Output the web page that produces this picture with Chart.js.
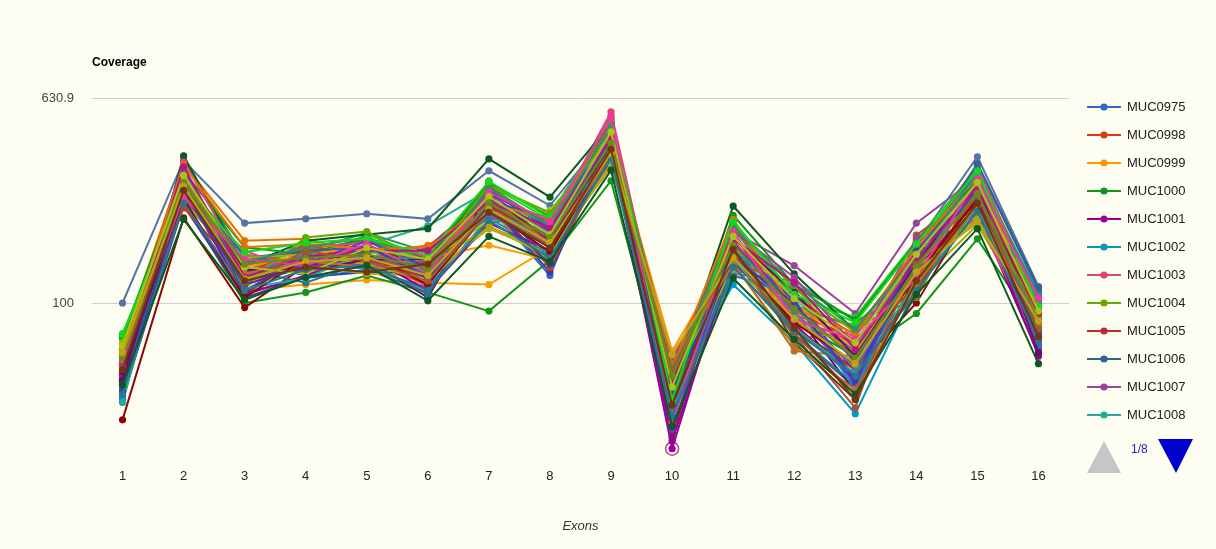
<!DOCTYPE html>
<html>
<head>
<meta charset="utf-8">
<script src="https://cdn.jsdelivr.net/npm/chart.js@4.4.1/dist/chart.umd.min.js"></script>
<style>
  html, body { margin: 0; padding: 0; background: #fdfdf2; }
  canvas { display: block; }
</style>
</head>
<body>
<canvas id="chart" width="1216" height="549"></canvas>
<script>
// Exon categories along the x axis
const exons = ['1', '2', '3', '4', '5', '6', '7', '8', '9', '10', '11', '12', '13', '14', '15', '16'];
// Labelled gridlines on the log coverage axis
const yTicks = [100, 630.9];
const pageLabel = '1/8';

// Sample names, in series order
const sampleNames = [
  'MUC0975', 'MUC0998', 'MUC0999', 'MUC1000', 'MUC1001', 'MUC1002', 'MUC1003', 'MUC1004',
  'MUC1005', 'MUC1006', 'MUC1007', 'MUC1008', 'MUC1009', 'MUC1010', 'MUC1011', 'MUC1012',
  'MUC1013', 'MUC1014', 'MUC1015', 'MUC1016', 'MUC1017', 'MUC1018', 'MUC1019', 'MUC1020',
  'MUC1021', 'MUC1022', 'MUC1023', 'MUC1024', 'MUC1025', 'MUC1026', 'MUC1027', 'MUC1028',
  'MUC1029', 'MUC1030', 'MUC1031', 'MUC1032', 'MUC1033', 'MUC1034', 'MUC1035', 'MUC1036',
  'MUC1037', 'MUC1038', 'MUC1039', 'MUC1040', 'MUC1041', 'MUC1042', 'MUC1043', 'MUC1044',
  'MUC1045', 'MUC1046', 'MUC1047', 'MUC1048', 'MUC1049', 'MUC1050', 'MUC1051', 'MUC1052',
  'MUC1053', 'MUC1054', 'MUC1055', 'MUC1056', 'MUC1057', 'MUC1058'
];

// Mean coverage per exon, one array per sample (exons 1..16)
const muc0975 = [52, 265, 145, 128, 170, 118, 240, 128, 470, 34, 190, 82, 70, 122, 305, 96];
const muc0998 = [66, 330, 118, 165, 142, 152, 215, 205, 400, 55, 150, 110, 50, 165, 245, 72];
const muc0999 = [60, 290, 112, 118, 123, 120, 118, 165, 390, 46, 150, 78, 55, 135, 240, 82];
const muc1000 = [62, 250, 100, 110, 128, 110, 93, 147, 300, 38, 150, 85, 62, 91, 178, 78];
const muc1001 = [50, 270, 118, 140, 150, 125, 230, 175, 400, 27, 160, 90, 52, 145, 265, 75];
const muc1002 = [46, 280, 110, 125, 135, 115, 215, 155, 380, 44, 118, 70, 37, 115, 230, 70];
const muc1003 = [64, 310, 140, 150, 178, 140, 285, 200, 557, 49, 172, 105, 75, 165, 300, 100];
const muc1004 = [74, 300, 155, 140, 182, 135, 300, 175, 520, 42, 205, 95, 82, 140, 330, 104];
const muc1005 = [45, 345, 108, 155, 150, 162, 260, 150, 360, 60, 135, 118, 58, 108, 280, 88];
const muc1006 = [57, 290, 130, 172, 135, 110, 250, 215, 450, 38, 175, 75, 47, 150, 345, 112];
const muc1007 = [56, 300, 132, 152, 160, 142, 255, 190, 430, 42, 190, 140, 91, 205, 310, 92];
const muc1008 = [41, 285, 135, 155, 168, 200, 275, 205, 460, 48, 185, 100, 65, 155, 300, 110];
const muc1009 = [69, 255, 138, 132, 160, 140, 198, 160, 340, 57, 160, 88, 66, 118, 202, 80];
const muc1010 = [48, 315, 112, 150, 178, 125, 285, 190, 495, 31, 140, 100, 54, 170, 260, 66];
const muc1011 = [70, 350, 175, 178, 155, 168, 230, 140, 430, 50, 215, 72, 78, 130, 290, 98];
const muc1012 = [35, 215, 96, 140, 160, 140, 232, 170, 400, 36, 150, 80, 55, 100, 250, 80];
const muc1013 = [53, 275, 125, 136, 148, 105, 270, 200, 380, 46, 185, 92, 45, 155, 225, 63];
const muc1014 = [61, 360, 150, 160, 188, 158, 205, 222, 505, 36, 130, 122, 85, 112, 320, 108];
const muc1015 = [100, 360, 205, 213, 223, 213, 328, 240, 470, 45, 200, 105, 62, 170, 372, 116];
const muc1016 = [43, 240, 105, 126, 132, 130, 245, 132, 415, 53, 165, 80, 52, 160, 270, 76];
const muc1017 = [63, 310, 132, 168, 150, 120, 225, 182, 460, 44, 145, 65, 62, 125, 240, 92];
const muc1018 = [76, 285, 148, 145, 185, 150, 290, 210, 520, 40, 210, 105, 88, 175, 335, 84];
const muc1019 = [50, 335, 120, 155, 138, 165, 265, 165, 355, 58, 170, 112, 60, 138, 300, 102];
const muc1020 = [59, 270, 160, 130, 165, 115, 280, 195, 540, 48, 200, 90, 74, 150, 215, 70];
const muc1021 = [58, 295, 128, 145, 152, 132, 238, 172, 405, 41, 150, 75, 39, 184, 275, 84];
const muc1022 = [72, 320, 114, 175, 158, 145, 210, 230, 440, 35, 155, 115, 68, 120, 310, 95];
const muc1023 = [47, 250, 135, 120, 145, 108, 255, 145, 390, 52, 140, 76, 48, 168, 255, 110];
const muc1024 = [64, 305, 142, 162, 175, 155, 235, 170, 480, 41, 195, 98, 80, 105, 285, 74];
const muc1025 = [67, 265, 124, 140, 130, 128, 195, 155, 350, 62, 150, 85, 57, 140, 205, 86];
const muc1026 = [50, 375, 140, 175, 185, 195, 365, 259, 500, 48, 239, 130, 78, 160, 320, 100];
const muc1027 = [55, 340, 110, 150, 168, 138, 270, 205, 410, 30, 175, 70, 42, 130, 240, 90];
const muc1028 = [44, 290, 152, 135, 160, 160, 220, 185, 465, 46, 128, 108, 64, 158, 330, 68];
const muc1029 = [60, 235, 128, 170, 145, 118, 250, 138, 390, 57, 185, 93, 72, 115, 265, 100];
const muc1030 = [67, 310, 138, 155, 165, 150, 168, 147, 450, 65, 165, 100, 66, 150, 260, 94];
const muc1031 = [73, 325, 165, 155, 180, 148, 295, 218, 510, 44, 220, 118, 86, 172, 300, 105];
const muc1032 = [49, 280, 108, 128, 152, 112, 205, 160, 430, 29, 145, 83, 50, 135, 250, 62];
const muc1033 = [42, 300, 125, 145, 136, 135, 265, 150, 375, 39, 160, 104, 46, 145, 275, 80];
const muc1034 = [62, 355, 140, 165, 172, 152, 230, 200, 500, 55, 178, 88, 70, 162, 345, 96];
const muc1035 = [68, 270, 118, 180, 190, 142, 288, 225, 455, 50, 205, 114, 77, 128, 225, 106];
const muc1036 = [52, 320, 132, 138, 148, 125, 240, 178, 400, 35, 158, 78, 55, 110, 290, 84];
const muc1037 = [46, 295, 145, 160, 165, 128, 275, 195, 425, 43, 170, 98, 60, 150, 350, 115];
const muc1038 = [58, 260, 130, 148, 140, 145, 222, 168, 470, 59, 190, 126, 68, 178, 280, 92];
const muc1039 = [41, 310, 114, 125, 158, 158, 250, 205, 360, 38, 148, 80, 53, 120, 235, 76];
const muc1040 = [70, 245, 150, 155, 142, 122, 200, 150, 410, 51, 135, 90, 64, 138, 212, 98];
const muc1041 = [51, 330, 122, 142, 175, 138, 268, 185, 445, 32, 168, 102, 48, 155, 275, 72];
const muc1042 = [65, 345, 165, 170, 162, 165, 245, 212, 485, 56, 212, 95, 76, 165, 315, 88];
const muc1043 = [54, 255, 105, 150, 155, 118, 230, 158, 395, 40, 152, 84, 58, 128, 255, 94];
const muc1044 = [50, 300, 135, 132, 148, 148, 258, 178, 415, 47, 180, 110, 62, 142, 292, 64];
const muc1045 = [63, 280, 145, 165, 180, 132, 282, 200, 490, 53, 198, 118, 79, 152, 320, 100];
const muc1046 = [55, 325, 128, 155, 150, 150, 215, 188, 460, 37, 160, 92, 56, 135, 300, 107];
const muc1047 = [45, 270, 118, 138, 168, 125, 238, 142, 405, 45, 150, 100, 50, 160, 260, 78];
const muc1048 = [62, 310, 130, 146, 138, 140, 262, 168, 375, 58, 142, 68, 46, 118, 240, 82];
const muc1049 = [75, 290, 158, 172, 178, 155, 298, 215, 525, 42, 208, 108, 84, 170, 328, 97];
const muc1050 = [57, 340, 126, 152, 160, 160, 248, 196, 440, 50, 178, 120, 66, 148, 285, 91];
const muc1051 = [60, 260, 148, 140, 170, 130, 270, 208, 530, 34, 190, 86, 72, 125, 305, 104];
const muc1052 = [56, 300, 120, 160, 146, 122, 228, 165, 395, 55, 155, 76, 44, 142, 262, 79];
const muc1053 = [68, 315, 138, 130, 164, 148, 260, 185, 465, 47, 182, 104, 70, 155, 295, 93];
const muc1054 = [44, 245, 112, 135, 140, 112, 210, 150, 370, 36, 138, 78, 52, 112, 228, 71];
const muc1055 = [61, 295, 142, 150, 155, 136, 246, 180, 420, 52, 168, 95, 61, 138, 268, 86];
const muc1056 = [64, 285, 124, 145, 150, 128, 232, 172, 385, 63, 150, 87, 58, 132, 208, 85];
const muc1057 = [48, 212, 103, 126, 140, 102, 182, 145, 330, 33, 125, 72, 44, 108, 195, 58];
const muc1058 = [55, 275, 122, 138, 132, 142, 226, 164, 398, 40, 162, 80, 42, 122, 245, 74];

const coverage = [
  muc0975, muc0998, muc0999, muc1000, muc1001, muc1002, muc1003, muc1004,
  muc1005, muc1006, muc1007, muc1008, muc1009, muc1010, muc1011, muc1012,
  muc1013, muc1014, muc1015, muc1016, muc1017, muc1018, muc1019, muc1020,
  muc1021, muc1022, muc1023, muc1024, muc1025, muc1026, muc1027, muc1028,
  muc1029, muc1030, muc1031, muc1032, muc1033, muc1034, muc1035, muc1036,
  muc1037, muc1038, muc1039, muc1040, muc1041, muc1042, muc1043, muc1044,
  muc1045, muc1046, muc1047, muc1048, muc1049, muc1050, muc1051, muc1052,
  muc1053, muc1054, muc1055, muc1056, muc1057, muc1058
];

// Series colour cycle
const palette = [
  '#3366cc', '#dc3912', '#ff9900', '#109618', '#990099', '#0099c6', '#dd4477', '#66aa00',
  '#b82e2e', '#316395', '#994499', '#22aa99', '#aaaa11', '#6633cc', '#e67300', '#8b0707',
  '#651067', '#329262', '#5574a6', '#3b3eac', '#b77322', '#16d620', '#b91383', '#f4359e',
  '#9c5935', '#a9c413', '#2a778d', '#668d1c', '#bea413', '#0c5922', '#743411'
];

const FONT = 'Arial, "Liberation Sans", sans-serif';
const BG = '#fdfdf2';
const LEGEND_ROWS = 12;
const highlighted = { series: 4, exon: 9 };

const datasets = coverage.map((values, i) => {
  const c = palette[i % palette.length];
  return {
    label: sampleNames[i],
    data: values,
    borderColor: c,
    backgroundColor: c,
    pointBackgroundColor: c,
    pointBorderWidth: 0,
    pointRadius: 3.6,
    borderWidth: 2,
    tension: 0,
    // later samples are painted over earlier ones
    order: coverage.length - i
  };
});

const backdrop = {
  id: 'backdrop',
  beforeDraw(chart) {
    const ctx = chart.ctx;
    ctx.save();
    ctx.fillStyle = BG;
    ctx.fillRect(0, 0, chart.width, chart.height);
    ctx.restore();
  }
};

const decorations = {
  id: 'decorations',
  afterDatasetsDraw(chart) {
    // selection ring on one point
    const meta = chart.getDatasetMeta(highlighted.series);
    const pt = meta.data[highlighted.exon];
    if (pt) {
      const ctx = chart.ctx;
      ctx.save();
      ctx.strokeStyle = 'rgba(153,0,153,0.75)';
      ctx.lineWidth = 1.5;
      ctx.beginPath();
      ctx.arc(pt.x, pt.y, 6.5, 0, Math.PI * 2);
      ctx.stroke();
      ctx.restore();
    }
  },
  afterDraw(chart) {
    const ctx = chart.ctx;
    ctx.save();
    // vertical axis caption
    ctx.fillStyle = '#000';
    ctx.font = 'bold 12px ' + FONT;
    ctx.textBaseline = 'middle';
    ctx.textAlign = 'left';
    ctx.fillText('Coverage', 92, 63);

    // legend, first page
    const lx0 = 1087, lx1 = 1121, tx = 1127, y0 = 107, dy = 28;
    ctx.font = '13px ' + FONT;
    for (let i = 0; i < LEGEND_ROWS && i < chart.data.datasets.length; i++) {
      const ds = chart.data.datasets[i];
      const y = y0 + i * dy;
      ctx.strokeStyle = ds.borderColor;
      ctx.lineWidth = 2;
      ctx.beginPath();
      ctx.moveTo(lx0, y);
      ctx.lineTo(lx1, y);
      ctx.stroke();
      ctx.fillStyle = ds.borderColor;
      ctx.beginPath();
      ctx.arc((lx0 + lx1) / 2, y, 3.6, 0, Math.PI * 2);
      ctx.fill();
      ctx.fillStyle = '#222';
      ctx.fillText(ds.label, tx, y + 0.5);
    }

    // pager
    ctx.fillStyle = '#c6c6c6';
    ctx.beginPath();
    ctx.moveTo(1104, 441);
    ctx.lineTo(1121, 473);
    ctx.lineTo(1087, 473);
    ctx.closePath();
    ctx.fill();

    ctx.fillStyle = '#2323c8';
    ctx.font = '12px ' + FONT;
    ctx.fillText(pageLabel, 1131, 450);

    ctx.fillStyle = '#0000cc';
    ctx.beginPath();
    ctx.moveTo(1158, 439);
    ctx.lineTo(1193, 439);
    ctx.lineTo(1176, 473);
    ctx.closePath();
    ctx.fill();
    ctx.restore();
  }
};

new Chart(document.getElementById('chart'), {
  type: 'line',
  data: { labels: exons, datasets },
  options: {
    responsive: false,
    animation: false,
    devicePixelRatio: 1,
    events: [],
    layout: { padding: { left: 0, right: 147, top: 98, bottom: 0 } },
    plugins: { legend: { display: false }, tooltip: { enabled: false }, title: { display: false } },
    scales: {
      x: {
        type: 'category',
        offset: true,
        grid: { display: false, drawTicks: false },
        border: { display: false },
        ticks: { color: '#222', font: { family: FONT, size: 13 }, padding: 9, maxRotation: 0, autoSkip: false },
        title: {
          display: true, text: 'Exons', color: '#333',
          font: { family: FONT, size: 13, style: 'italic' },
          padding: { top: 0, bottom: 15 }
        },
        afterFit(scale) { scale.height = 89; }
      },
      y: {
        type: 'logarithmic',
        min: 24.4,
        max: 630.9,
        afterBuildTicks(scale) { scale.ticks = yTicks.map(v => ({ value: v })); },
        grid: { color: '#cfcfcf', lineWidth: 1, drawTicks: false },
        border: { display: false },
        ticks: {
          color: '#444', font: { family: FONT, size: 13 }, padding: 18,
          callback: (v) => String(v)
        },
        afterFit(scale) { scale.width = 92; }
      }
    }
  },
  plugins: [backdrop, decorations]
});
</script>
</body>
</html>
